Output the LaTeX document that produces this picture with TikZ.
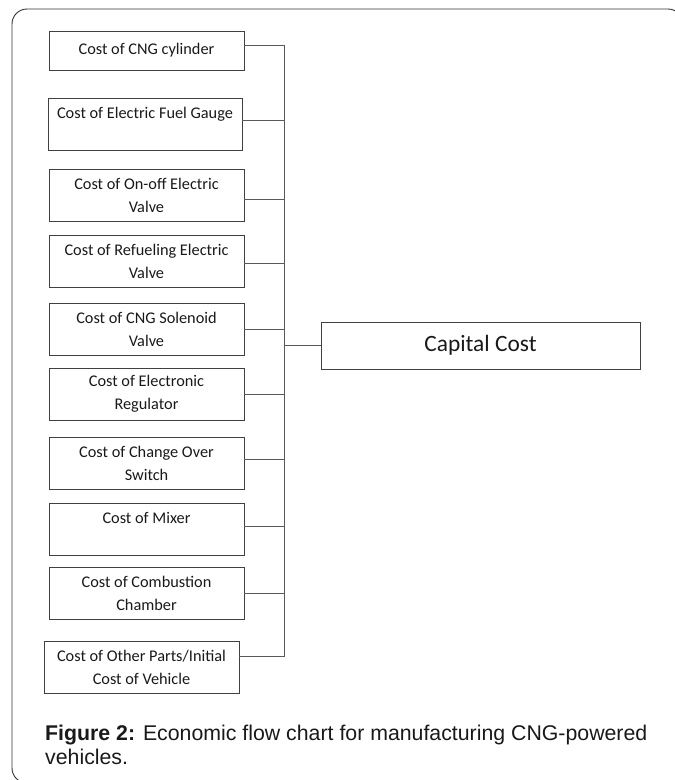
\documentclass[tikz,border=0pt]{standalone}
\usepackage{fontspec}
\setmainfont{Carlito}
\newfontfamily\captionfont{Liberation Sans}
\usetikzlibrary{positioning}

\begin{document}
\begin{tikzpicture}[
  x=1pt, y=-1pt,
  node distance=14pt,
  part/.style={rectangle, draw=black!75, line width=0.8pt, outer sep=0pt, minimum width=195pt, minimum height=52pt, inner sep=1pt, align=center, text=black!90, font=\fontsize{16.3}{23}\selectfont},
  total/.style={part, minimum width=319pt, minimum height=47pt, font=\fontsize{23.4}{28}\selectfont},
  link/.style={draw=black!65, line width=0.8pt},
  frame/.style={draw=black!80, line width=0.9pt, rounded corners=15pt},
  caption/.style={align=left, inner sep=0pt, text=black!90, font=\captionfont\fontsize{21.3}{24.5}\selectfont},
]
  \useasboundingbox (0,0) rectangle (675,780);

  % ── Frame ──────────────────────────────────
  \draw[frame] (12,9) rectangle (683,783);

  % ── Cost items ─────────────────────────────
  \node[part, minimum height=39pt, anchor=north west] (cyl) at (49,31) {Cost of CNG cylinder};
  \node[part, below=28pt of cyl, xshift=-1.5pt, minimum width=194pt] (gauge) {Cost of Electric Fuel Gauge\\\mbox{}};
  \node[part, below=19pt of gauge, xshift=1.5pt] (onoff) {Cost of On-off Electric\\Valve};
  \node[part, below=14pt of onoff] (refuel) {Cost of Refueling Electric\\Valve};
  \node[part, below=16pt of refuel] (solenoid) {Cost of CNG Solenoid\\Valve};
  \node[part, below=13pt of solenoid] (regulator) {Cost of Electronic\\Regulator};
  \node[part, below=17pt of regulator] (switch) {Cost of Change Over\\Switch};
  \node[part, below=14pt of switch] (mixer) {Cost of Mixer\\\mbox{}};
  \node[part, below=12pt of mixer] (chamber) {Cost of Combustion\\Chamber};
  \node[part, below=22pt of chamber, xshift=-5pt] (other) {Cost of Other Parts/Initial\\Cost of Vehicle};

  % ── Capital Cost ───────────────────────────
  \node[total, anchor=west] (capital) at (321,345.5) {Capital Cost};
  \coordinate[left=37pt of capital.west] (bus);

  % ── Connections ────────────────────────────
  \draw[link] ([yshift=5pt]cyl.east) -| (bus);
  \draw[link] ([yshift=4pt]gauge.east) -| (bus);
  \draw[link] ([yshift=-4pt]onoff.east) -| (bus);
  \draw[link] ([yshift=-2.5pt]refuel.east) -| (bus);
  \draw[link] (solenoid.east) -| (bus);
  \draw[link] (regulator.east) -| (bus);
  \draw[link] ([yshift=4pt]switch.east) -| (bus);
  \draw[link] ([yshift=3pt]mixer.east) -| (bus);
  \draw[link] (chamber.east) -| (bus);
  \draw[link] ([yshift=11pt]other.east) -| (bus);
  \draw[link] (capital.west) -- (bus);

  % ── Caption ────────────────────────────────
  \node[caption, anchor=base west] (caption) at (45,764.5) {\textbf{Figure 2:} Economic flow chart for manufacturing CNG-powered\\vehicles.};

\end{tikzpicture}
\end{document}
